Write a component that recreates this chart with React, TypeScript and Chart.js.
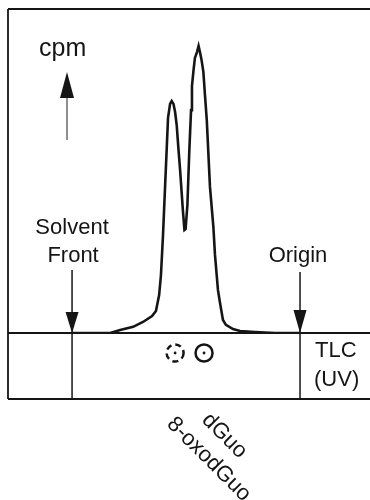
import React, { useEffect, useRef } from "react";
import { Chart, registerables } from "chart.js";

Chart.register(...registerables);

// Radioactivity scan along the TLC plate (x = Rf, y = relative cpm)
const rfValues = [
  1.0, 0.833, 0.789, 0.732, 0.689, 0.649, 0.632, 0.618, 0.61, 0.601, 0.592, 0.585, 0.579, 0.57, 0.563,
  0.555, 0.548, 0.541, 0.533, 0.526, 0.514, 0.507, 0.502, 0.494, 0.486, 0.478, 0.474, 0.467, 0.461,
  0.452, 0.445, 0.439, 0.432, 0.424, 0.417, 0.409, 0.395, 0.38, 0.373, 0.36, 0.351, 0.338, 0.325,
  0.294, 0.263, 0.197, 0.11, 0.0,
];
const cpmValues = [
  0, 0, 0.9, 1.9, 3.4, 5.2, 6.8, 11.7, 17.9, 30.2, 45.1, 56.5, 66.4, 70.7, 71.6,
  70.7, 68.2, 64.2, 56.5, 50.3, 38.0, 31.8, 32.1, 39.5, 55.6, 68.8, 76.2, 81.2, 84.9,
  86.7, 88.6, 86.7, 84.3, 80.6, 73.5, 65.7, 45.1, 32.7, 24.1, 13.3, 9.3, 4.0, 2.5,
  1.2, 0.6, 0.3, 0, 0,
];

// Axis range (Rf, plotted right-to-left: origin on the right)
const rfMin = -0.307;
const rfMax = 1.281;
const cpmMax = 100;

// Markers on the plate
const solventFrontRf = 1.0;
const originRf = 0.0;
const markerLabels = ["Solvent", "Front"];
const originLabel = "Origin";
const yAxisLabel = "cpm";
const tlcLabels = ["TLC", "(UV)"];

// UV spots on the TLC strip
const spotNames = ["8-oxodGuo", "dGuo"];
const spotRf = [0.548, 0.421];
const spotDashed = [true, false];

const FONT = "'Liberation Sans', Arial, Helvetica, sans-serif";
const INK = "#151515";

const overlayPlugin = {
  id: "tlcOverlay",
  afterDatasetsDraw(chart: any) {
    const ctx = chart.ctx as CanvasRenderingContext2D;
    const ca = chart.chartArea;
    const xs = chart.scales.x;
    const ys = chart.scales.y;
    const base = ys.getPixelForValue(0);
    const stripBottom = base + 66;
    const right = chart.width;
    ctx.save();
    ctx.strokeStyle = INK;
    ctx.fillStyle = INK;
    ctx.lineWidth = 1.8;

    const line = (x1: number, y1: number, x2: number, y2: number) => {
      ctx.beginPath();
      ctx.moveTo(x1, y1);
      ctx.lineTo(x2, y2);
      ctx.stroke();
    };
    // frame
    line(ca.left, ca.top, right, ca.top);
    line(ca.left, ca.top, ca.left, stripBottom);
    line(ca.left, base, right, base);
    line(ca.left, stripBottom, right, stripBottom);

    const tri = (cx: number, tipY: number, baseY: number, hw: number) => {
      ctx.beginPath();
      ctx.moveTo(cx, tipY);
      ctx.lineTo(cx - hw, baseY);
      ctx.lineTo(cx + hw, baseY);
      ctx.closePath();
      ctx.fill();
    };

    // solvent front & origin marker lines with arrows
    const xf = xs.getPixelForValue(solventFrontRf);
    const xo = xs.getPixelForValue(originRf);
    ctx.lineWidth = 1.5;
    line(xf, base - 63, xf, stripBottom);
    line(xo, base - 61, xo, stripBottom);
    tri(xf, base, base - 21, 6.5);
    tri(xo, base, base - 23, 6.5);

    // cpm up arrow
    ctx.strokeStyle = "#444";
    ctx.lineWidth = 1.2;
    line(67, ca.top + 86, 67, ca.top + 131);
    ctx.fillStyle = INK;
    tri(67, ca.top + 63, ca.top + 89, 7);

    // texts
    ctx.fillStyle = INK;
    ctx.textBaseline = "alphabetic";
    ctx.font = `25px ${FONT}`;
    ctx.textAlign = "left";
    ctx.fillText(yAxisLabel, 39, ca.top + 47);
    ctx.font = `22px ${FONT}`;
    ctx.textAlign = "center";
    ctx.fillText(markerLabels[0], xf, base - 99.5);
    ctx.fillText(markerLabels[1], xf + 1, base - 71.5);
    ctx.fillText(originLabel, xo - 2, base - 71.5);
    ctx.textAlign = "left";
    ctx.fillText(tlcLabels[0], 315, base + 24);
    ctx.fillText(tlcLabels[1], 314, base + 53);

    // spots
    const spotY = base + 20;
    spotRf.forEach((rf, i) => {
      const cx = xs.getPixelForValue(rf);
      ctx.strokeStyle = INK;
      ctx.lineWidth = 2.5;
      ctx.setLineDash(spotDashed[i] ? [6, 4] : []);
      ctx.beginPath();
      ctx.arc(cx, spotY, 8.5, 0, Math.PI * 2);
      ctx.stroke();
      ctx.setLineDash([]);
      ctx.beginPath();
      ctx.arc(cx, spotY, 1.4, 0, Math.PI * 2);
      ctx.fill();
    });

    // rotated spot names
    ctx.font = `22px ${FONT}`;
    ctx.textAlign = "left";
    ctx.textBaseline = "top";
    spotRf.forEach((rf, i) => {
      const cx = xs.getPixelForValue(rf);
      ctx.save();
      ctx.translate(cx + (i === 0 ? 3 : 9), stripBottom + (i === 0 ? 14 : 10));
      ctx.rotate(Math.PI / 4);
      ctx.fillText(spotNames[i], 0, 0);
      ctx.restore();
    });
    ctx.restore();
  },
};

export default function App() {
  const ref = useRef<HTMLCanvasElement | null>(null);
  useEffect(() => {
    if (!ref.current) return;
    const chart = new Chart(ref.current, {
      type: "line",
      data: {
        datasets: [
          {
            data: rfValues.map((x, i) => ({ x, y: cpmValues[i] })),
            borderColor: INK,
            borderWidth: 2.6,
            pointRadius: 0,
            tension: 0,
            fill: false,
          },
        ],
      },
      options: {
        animation: false,
        responsive: false,
        devicePixelRatio: 1,
        layout: { padding: { left: 8, top: 9, right: 0, bottom: 167 } },
        plugins: { legend: { display: false }, tooltip: { enabled: false } },
        scales: {
          x: { type: "linear", min: rfMin, max: rfMax, reverse: true, display: false },
          y: { type: "linear", min: 0, max: cpmMax, display: false },
        },
      },
      plugins: [overlayPlugin],
    });
    return () => chart.destroy();
  }, []);
  return (
    <div style={{ position: "absolute", left: 0, top: 0, width: 370, height: 500, background: "#fff" }}>
      <canvas ref={ref} width={370} height={500} style={{ display: "block" }} />
    </div>
  );
}
